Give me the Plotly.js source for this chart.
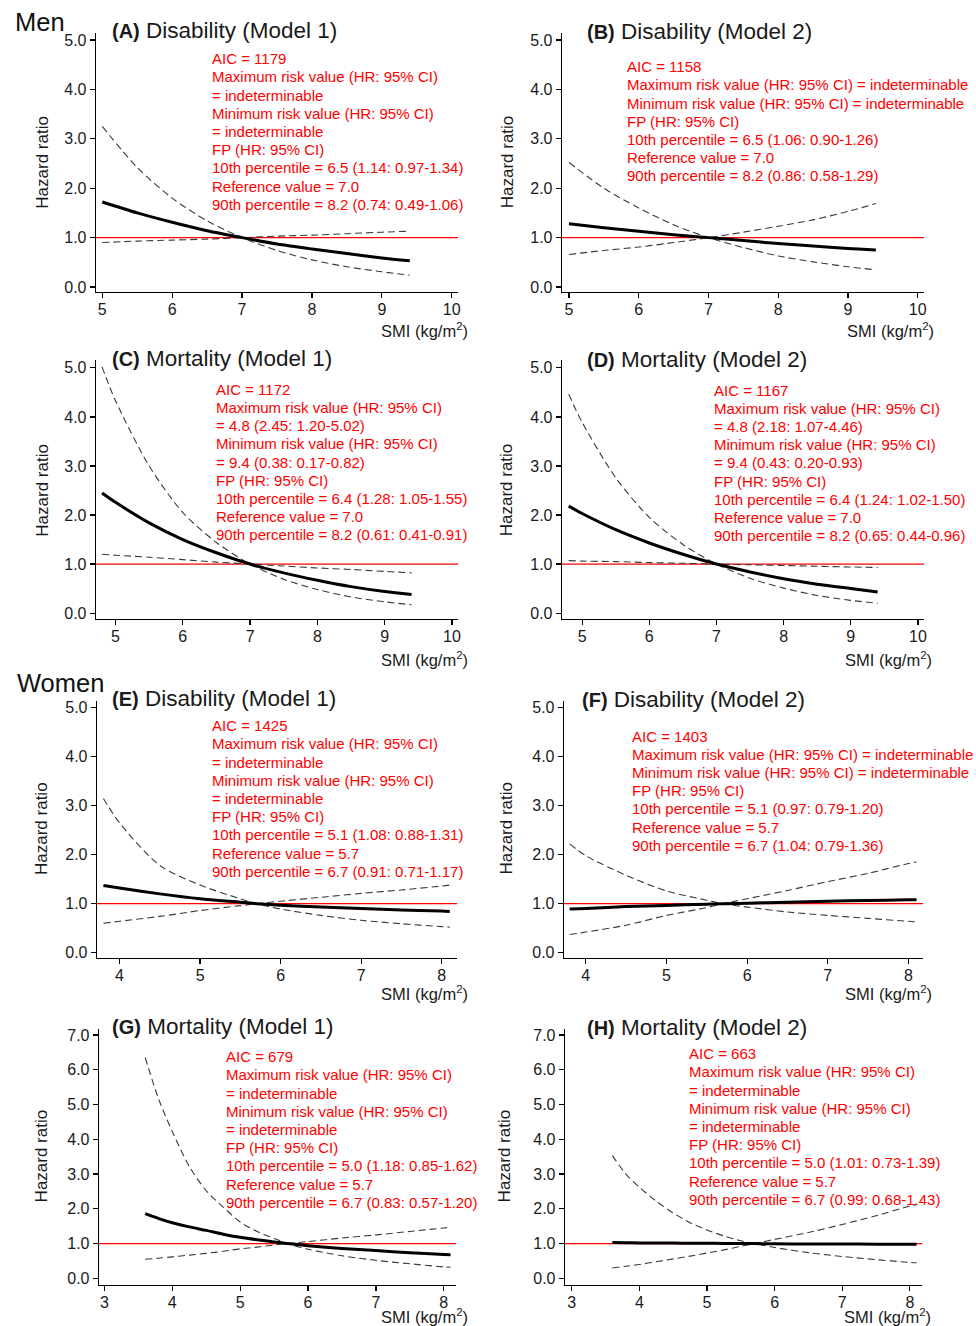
<!DOCTYPE html>
<html><head><meta charset="utf-8">
<script src="https://cdn.plot.ly/plotly-3.0.1.min.js"></script>
<style>html,body{margin:0;padding:0;background:#fff}</style>
</head><body><div id="chart" style="width:976px;height:1326px"></div>
<script>
// ---------------- DATA ----------------
// Men, panels A/B: SMI grid
const smiA = [5.0, 5.5, 6.0, 6.5, 7.0, 7.5, 8.0, 8.5, 9.0, 9.4];
const hrA   = [1.72, 1.50, 1.31, 1.14, 1.00, 0.87, 0.77, 0.68, 0.59, 0.53];
const ci1A  = [3.25, 2.42, 1.80, 1.34, 1.00, 0.74, 0.55, 0.41, 0.31, 0.24];
const ci2A  = [0.90, 0.93, 0.95, 0.97, 1.00, 1.03, 1.05, 1.08, 1.11, 1.13];

const smiB = [5.0, 5.5, 6.0, 6.5, 7.0, 7.5, 8.0, 8.5, 9.0, 9.4];
const hrB   = [1.28, 1.20, 1.13, 1.06, 1.00, 0.94, 0.88, 0.83, 0.78, 0.75];
const ci1B  = [2.52, 2.00, 1.60, 1.26, 1.00, 0.80, 0.63, 0.51, 0.41, 0.35];
const ci2B  = [0.66, 0.74, 0.81, 0.90, 1.00, 1.11, 1.23, 1.36, 1.53, 1.69];

// Men, panels C/D
const smiC = [4.8, 5.0, 5.5, 6.0, 6.5, 7.0, 7.5, 8.0, 8.5, 9.0, 9.4];
const hrC   = [2.45, 2.26, 1.84, 1.50, 1.23, 1.00, 0.82, 0.67, 0.54, 0.44, 0.38];
const ci1C  = [5.02, 4.33, 3.00, 2.05, 1.44, 1.00, 0.69, 0.48, 0.33, 0.23, 0.17];
const ci2C  = [1.20, 1.18, 1.14, 1.09, 1.04, 1.00, 0.96, 0.92, 0.89, 0.85, 0.82];

const smiD = [4.8, 5.0, 5.5, 6.0, 6.5, 7.0, 7.5, 8.0, 8.5, 9.0, 9.4];
const hrD   = [2.18, 2.03, 1.70, 1.43, 1.20, 1.00, 0.84, 0.70, 0.59, 0.50, 0.43];
const ci1D  = [4.46, 3.89, 2.76, 1.95, 1.40, 1.00, 0.71, 0.51, 0.36, 0.26, 0.20];
const ci2D  = [1.07, 1.06, 1.05, 1.03, 1.015, 1.00, 0.985, 0.97, 0.955, 0.94, 0.93];

// Women, panels E/F
const smiE = [3.8, 4.0, 4.5, 5.0, 5.5, 5.7, 6.0, 6.5, 7.0, 7.5, 8.0, 8.1];
const hrE   = [1.37, 1.32, 1.20, 1.10, 1.03, 1.00, 0.97, 0.93, 0.90, 0.87, 0.85, 0.84];
const ci1E  = [3.15, 2.65, 1.78, 1.38, 1.10, 1.00, 0.89, 0.76, 0.66, 0.59, 0.53, 0.52];
const ci2E  = [0.60, 0.64, 0.74, 0.86, 0.96, 1.00, 1.05, 1.13, 1.21, 1.28, 1.36, 1.38];

const smiF = [3.8, 4.0, 4.5, 5.0, 5.5, 5.7, 6.0, 6.5, 7.0, 7.5, 8.0, 8.1];
const hrF   = [0.89, 0.90, 0.94, 0.965, 0.99, 1.00, 1.01, 1.03, 1.05, 1.065, 1.08, 1.08];
const ci1F  = [2.22, 1.98, 1.58, 1.26, 1.07, 1.00, 0.93, 0.83, 0.76, 0.70, 0.64, 0.63];
const ci2F  = [0.37, 0.42, 0.56, 0.76, 0.92, 1.00, 1.10, 1.27, 1.45, 1.62, 1.82, 1.85];

// Women, panels G/H
const smiG = [3.6, 3.8, 4.0, 4.25, 4.5, 4.75, 5.0, 5.25, 5.5, 5.7, 6.0, 6.5, 7.0, 7.5, 8.0, 8.1];
const hrG   = [1.86, 1.72, 1.60, 1.48, 1.38, 1.27, 1.18, 1.11, 1.05, 1.00, 0.94, 0.86, 0.80, 0.74, 0.69, 0.68];
const ci1G  = [6.35, 5.15, 4.22, 3.22, 2.52, 2.05, 1.62, 1.35, 1.15, 1.00, 0.84, 0.65, 0.52, 0.42, 0.33, 0.32];
const ci2G  = [0.55, 0.58, 0.62, 0.67, 0.72, 0.78, 0.85, 0.90, 0.96, 1.00, 1.06, 1.16, 1.25, 1.35, 1.45, 1.47];

const smiH = [3.6, 3.8, 4.0, 4.25, 4.5, 4.75, 5.0, 5.25, 5.5, 5.7, 6.0, 6.5, 7.0, 7.5, 8.0, 8.1];
const hrH   = [1.03, 1.025, 1.02, 1.015, 1.015, 1.01, 1.01, 1.005, 1.00, 1.00, 0.995, 0.99, 0.99, 0.985, 0.98, 0.98];
const ci1H  = [3.53, 3.00, 2.62, 2.22, 1.88, 1.60, 1.39, 1.22, 1.08, 1.00, 0.89, 0.74, 0.63, 0.54, 0.46, 0.45];
const ci2H  = [0.30, 0.35, 0.40, 0.48, 0.56, 0.64, 0.73, 0.82, 0.92, 1.00, 1.12, 1.32, 1.55, 1.80, 2.08, 2.12];

// Tick values / labels
const xTicksMen   = [5, 6, 7, 8, 9, 10];
const xTicksWomenE = [4, 5, 6, 7, 8];
const xTicksWomenG = [3, 4, 5, 6, 7, 8];
const yTicks5 = [0, 1, 2, 3, 4, 5];
const yTicks7 = [0, 1, 2, 3, 4, 5, 6, 7];
const refHR = 1.0;

// Panel texts
const titlesPanel = [
  ['(A)', 'Disability (Model 1)'], ['(B)', 'Disability (Model 2)'],
  ['(C)', 'Mortality (Model 1)'],  ['(D)', 'Mortality (Model 2)'],
  ['(E)', 'Disability (Model 1)'], ['(F)', 'Disability (Model 2)'],
  ['(G)', 'Mortality (Model 1)'],  ['(H)', 'Mortality (Model 2)']
];
const notes = [
  ['AIC = 1179','Maximum risk value (HR: 95% CI)','= indeterminable','Minimum risk value (HR: 95% CI)','= indeterminable','FP (HR: 95% CI)','10th percentile = 6.5 (1.14: 0.97-1.34)','Reference value = 7.0','90th percentile = 8.2 (0.74: 0.49-1.06)'],
  ['AIC = 1158','Maximum risk value (HR: 95% CI) = indeterminable','Minimum risk value (HR: 95% CI) = indeterminable','FP (HR: 95% CI)','10th percentile = 6.5 (1.06: 0.90-1.26)','Reference value = 7.0','90th percentile = 8.2 (0.86: 0.58-1.29)'],
  ['AIC = 1172','Maximum risk value (HR: 95% CI)','= 4.8 (2.45: 1.20-5.02)','Minimum risk value (HR: 95% CI)','= 9.4 (0.38: 0.17-0.82)','FP (HR: 95% CI)','10th percentile = 6.4 (1.28: 1.05-1.55)','Reference value = 7.0','90th percentile = 8.2 (0.61: 0.41-0.91)'],
  ['AIC = 1167','Maximum risk value (HR: 95% CI)','= 4.8 (2.18: 1.07-4.46)','Minimum risk value (HR: 95% CI)','= 9.4 (0.43: 0.20-0.93)','FP (HR: 95% CI)','10th percentile = 6.4 (1.24: 1.02-1.50)','Reference value = 7.0','90th percentile = 8.2 (0.65: 0.44-0.96)'],
  ['AIC = 1425','Maximum risk value (HR: 95% CI)','= indeterminable','Minimum risk value (HR: 95% CI)','= indeterminable','FP (HR: 95% CI)','10th percentile = 5.1 (1.08: 0.88-1.31)','Reference value = 5.7','90th percentile = 6.7 (0.91: 0.71-1.17)'],
  ['AIC = 1403','Maximum risk value (HR: 95% CI) = indeterminable','Minimum risk value (HR: 95% CI) = indeterminable','FP (HR: 95% CI)','10th percentile = 5.1 (0.97: 0.79-1.20)','Reference value = 5.7','90th percentile = 6.7 (1.04: 0.79-1.36)'],
  ['AIC = 679','Maximum risk value (HR: 95% CI)','= indeterminable','Minimum risk value (HR: 95% CI)','= indeterminable','FP (HR: 95% CI)','10th percentile = 5.0 (1.18: 0.85-1.62)','Reference value = 5.7','90th percentile = 6.7 (0.83: 0.57-1.20)'],
  ['AIC = 663','Maximum risk value (HR: 95% CI)','= indeterminable','Minimum risk value (HR: 95% CI)','= indeterminable','FP (HR: 95% CI)','10th percentile = 5.0 (1.01: 0.73-1.39)','Reference value = 5.7','90th percentile = 6.7 (0.99: 0.68-1.43)']
];
const groupLabels = ['Men', 'Women'];
const xTitleText = 'SMI (kg/m<sup>2</sup>)';
const yTitleText = 'Hazard ratio';

// ---------------- LAYOUT CONFIG (pixels) ----------------
const W = 976, H = 1326;
const FONT = '"Liberation Sans", Arial, Helvetica, sans-serif';
const series = [
  [smiA, hrA, ci1A, ci2A], [smiB, hrB, ci1B, ci2B],
  [smiC, hrC, ci1C, ci2C], [smiD, hrD, ci1D, ci2D],
  [smiE, hrE, ci1E, ci2E], [smiF, hrF, ci1F, ci2F],
  [smiG, hrG, ci1G, ci2G], [smiH, hrH, ci1H, ci2H]
];
const cfg = [
  {box:[96,458,33,292],   xr:[4.91,10.09], yr:[-0.10,5.14], xt:xTicksMen,   yt:yTicks5, tpos:[110,30],   npos:[209.7,58.7], xtp:[470,330],   ytp:[41.7,162]},
  {box:[562,924,33,292],  xr:[4.90,10.09], yr:[-0.10,5.14], xt:xTicksMen,   yt:yTicks5, tpos:[584.7,31.7], npos:[625.3,66.7], xtp:[935.7,330], ytp:[507.3,162]},
  {box:[96,458,360,619],  xr:[4.71,10.09], yr:[-0.12,5.16], xt:xTicksMen,   yt:yTicks5, tpos:[110,359],  npos:[214,389.3], xtp:[470,659.3],  ytp:[41.7,490]},
  {box:[562,924,360,619], xr:[4.70,10.09], yr:[-0.12,5.16], xt:xTicksMen,   yt:yTicks5, tpos:[584.7,360], npos:[712.3,390], xtp:[934,659.3], ytp:[506.3,490]},
  {box:[97,457,701,958],  xr:[3.72,8.19],  yr:[-0.11,5.14], xt:xTicksWomenE, yt:yTicks5, tpos:[110,698.3], npos:[209.7,725.7], xtp:[470,993.3], ytp:[41.7,828.3]},
  {box:[564,923,701,958], xr:[3.73,8.18],  yr:[-0.11,5.14], xt:xTicksWomenE, yt:yTicks5, tpos:[579.7,699.3], npos:[630,736], xtp:[934,993.3], ytp:[506.3,828.3]},
  {box:[99,456,1029,1285], xr:[2.92,8.18], yr:[-0.19,7.17], xt:xTicksWomenG, yt:yTicks7, tpos:[110,1026.7], npos:[224,1056.7], xtp:[470,1316], ytp:[41.7,1155.7]},
  {box:[565,922,1029,1285], xr:[2.90,8.18], yr:[-0.19,7.17], xt:xTicksWomenG, yt:yTicks7, tpos:[584.7,1027.3], npos:[687.3,1053.7], xtp:[933,1316], ytp:[504.7,1155.7]}
];
const groupPos = [[12.7,21.7],[15,682.7]];
const LINE_H = 18.2;

const traces = [];
const layout = {
  width: W, height: H, margin:{l:0,r:0,t:0,b:0},
  paper_bgcolor:'#fff', plot_bgcolor:'#fff',
  showlegend:false, font:{family:FONT, color:'#1a1a1a'},
  annotations:[], shapes:[]
};
const px = x => x / W, py = y => 1 - y / H;

cfg.forEach((c, i) => {
  const n = i + 1;
  const xa = n === 1 ? 'x' : 'x' + n, ya = n === 1 ? 'y' : 'y' + n;
  const xk = n === 1 ? 'xaxis' : 'xaxis' + n, yk = n === 1 ? 'yaxis' : 'yaxis' + n;
  const axCommon = {showgrid:false, zeroline:false, showline:true, linecolor:'#000', linewidth:1.3,
    ticks:'outside', ticklen:5, tickwidth:1.2, tickcolor:'#000', fixedrange:true,
    tickfont:{family:FONT, size:16, color:'#1a1a1a'}};
  layout[xk] = Object.assign({}, axCommon, {domain:[px(c.box[0]), px(c.box[1])], range:c.xr,
    anchor:ya, tickmode:'array', tickvals:c.xt, ticktext:c.xt.map(String), ticklabelstandoff:-3});
  layout[yk] = Object.assign({}, axCommon, {domain:[py(c.box[3]), py(c.box[2])], range:c.yr,
    anchor:xa, tickmode:'array', tickvals:c.yt, ticktext:c.yt.map(v => v.toFixed(1))});

  const [sx, hr, c1, c2] = series[i];
  // reference line at HR = 1
  layout.shapes.push({type:'line', xref:xa + ' domain', yref:ya, x0:0, x1:1, y0:refHR, y1:refHR,
    line:{color:'#ff0000', width:1.3}, layer:'below'});
  traces.push({x:sx, y:c1, xaxis:xa, yaxis:ya, mode:'lines', line:{color:'#3a3a3a', width:1.1, dash:'7px,4px', shape:'spline', smoothing:0.8}, hoverinfo:'skip'});
  traces.push({x:sx, y:c2, xaxis:xa, yaxis:ya, mode:'lines', line:{color:'#3a3a3a', width:1.1, dash:'7px,4px', shape:'spline', smoothing:0.8}, hoverinfo:'skip'});
  traces.push({x:sx, y:hr, xaxis:xa, yaxis:ya, mode:'lines', line:{color:'#000', width:3, shape:'spline', smoothing:0.8}, hoverinfo:'skip'});

  // panel title
  layout.annotations.push({xref:'paper', yref:'paper', x:px(c.tpos[0]), y:py(c.tpos[1]), xanchor:'left', yanchor:'middle', showarrow:false,
    text:'<b><span style="font-size:20px">' + titlesPanel[i][0] + '</span></b> ' + titlesPanel[i][1],
    font:{family:FONT, size:22.5, color:'#1a1a1a'}});
  // red notes
  notes[i].forEach((t, k) => {
    layout.annotations.push({xref:'paper', yref:'paper', x:px(c.npos[0]), y:py(c.npos[1] + k * LINE_H), xanchor:'left', yanchor:'middle', showarrow:false,
      text:t, font:{family:FONT, size:15, color:'#ff0000'}});
  });
  // axis titles
  layout.annotations.push({xref:'paper', yref:'paper', x:px(c.xtp[0]), y:py(c.xtp[1]), xanchor:'right', yanchor:'middle', showarrow:false,
    text:xTitleText, font:{family:FONT, size:16.5, color:'#1a1a1a'}});
  layout.annotations.push({xref:'paper', yref:'paper', x:px(c.ytp[0]), y:py(c.ytp[1]), xanchor:'center', yanchor:'middle', showarrow:false,
    textangle:-90, text:yTitleText, font:{family:FONT, size:17, color:'#1a1a1a'}});
});
groupLabels.forEach((g, k) => {
  layout.annotations.push({xref:'paper', yref:'paper', x:px(groupPos[k][0]), y:py(groupPos[k][1]), xanchor:'left', yanchor:'middle', showarrow:false,
    text:g, font:{family:FONT, size:25.5, color:'#111'}});
});

Plotly.newPlot('chart', traces, layout, {staticPlot:true, displayModeBar:false});
</script></body></html>
